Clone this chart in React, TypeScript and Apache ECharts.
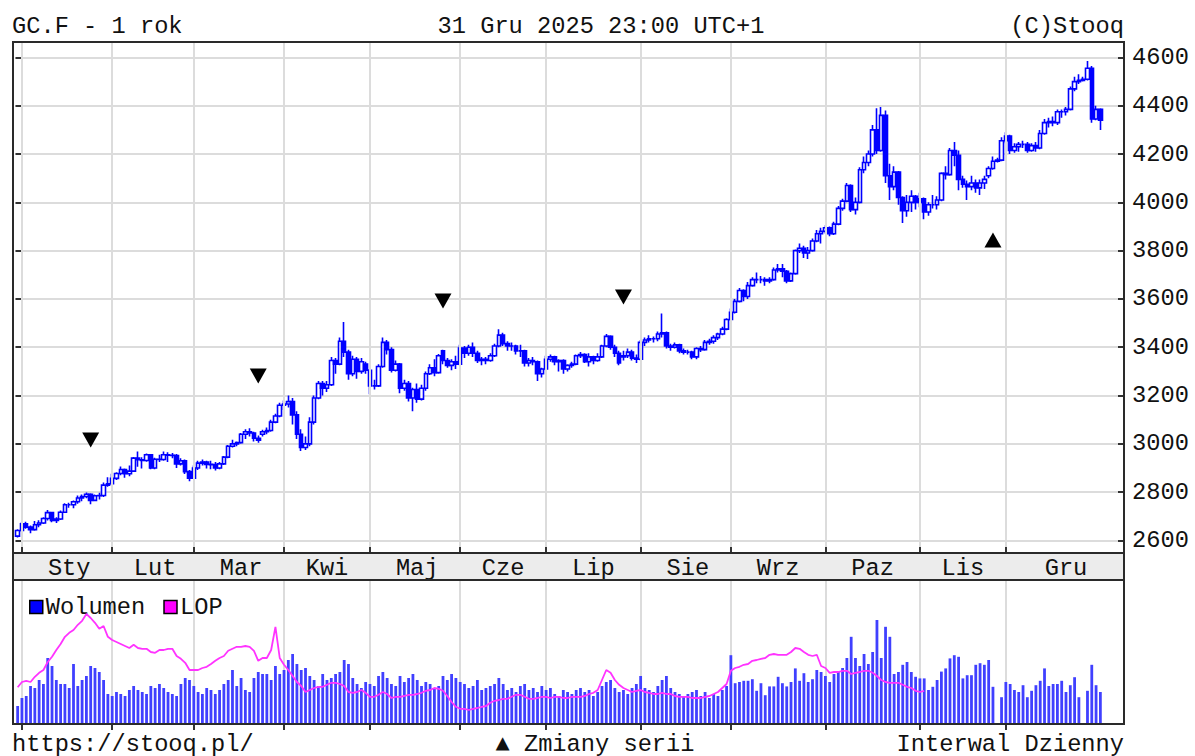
import React, { useEffect, useRef } from "react";
import * as echarts from "echarts";

const MONTH_LABELS = ["Sty", "Lut", "Mar", "Kwi", "Maj", "Cze", "Lip", "Sie", "Wrz", "Paz", "Lis", "Gru"];
const Y_TICKS = [2600, 2800, 3000, 3200, 3400, 3600, 3800, 4000, 4200, 4400, 4600];

// candles: [open, close, low, high]
const candDec2024 = [[2618, 2641, 2612, 2646]];
const candJan = [
  [2641, 2669, 2636, 2675], [2669, 2655, 2648, 2677], [2655, 2645, 2630, 2662], [2645, 2665, 2640, 2680],
  [2665, 2672, 2655, 2684], [2672, 2691, 2668, 2696], [2691, 2715, 2683, 2726], [2715, 2683, 2675, 2718],
  [2683, 2689, 2672, 2696], [2689, 2717, 2685, 2724], [2717, 2748, 2714, 2754], [2748, 2748, 2735, 2756],
  [2748, 2760, 2733, 2765], [2760, 2776, 2752, 2786], [2776, 2782, 2762, 2790], [2782, 2791, 2775, 2799],
  [2791, 2766, 2750, 2795], [2766, 2785, 2762, 2790], [2785, 2786, 2770, 2798], [2786, 2829, 2780, 2840],
  [2829, 2835, 2822, 2862],
];
const candFeb = [
  [2835, 2857, 2830, 2876], [2857, 2877, 2850, 2882], [2877, 2894, 2870, 2906], [2894, 2876, 2860, 2898],
  [2876, 2887, 2866, 2910], [2887, 2941, 2883, 2946], [2941, 2934, 2905, 2968], [2934, 2931, 2898, 2944],
  [2931, 2955, 2926, 2960], [2955, 2900, 2895, 2958], [2900, 2936, 2895, 2942], [2936, 2935, 2925, 2955],
  [2935, 2955, 2930, 2968], [2955, 2953, 2925, 2965], [2953, 2952, 2940, 2962], [2952, 2917, 2900, 2958],
  [2917, 2930, 2910, 2940], [2930, 2885, 2875, 2935], [2885, 2858, 2845, 2892],
];
const candMar = [
  [2858, 2900, 2855, 2910], [2900, 2920, 2892, 2930], [2920, 2925, 2910, 2935], [2925, 2915, 2898, 2930],
  [2915, 2914, 2895, 2930], [2914, 2900, 2890, 2925], [2900, 2917, 2895, 2925], [2917, 2945, 2912, 2950],
  [2945, 2990, 2940, 2995], [2990, 3000, 2985, 3017], [3000, 3005, 2990, 3010], [3005, 3040, 3000, 3045],
  [3040, 3050, 3020, 3060], [3050, 3045, 3030, 3065], [3045, 3023, 3010, 3050], [3023, 3015, 3005, 3035],
  [3040, 3050, 3030, 3058], [3050, 3055, 3040, 3068], [3055, 3090, 3050, 3100], [3090, 3115, 3085, 3125],
  [3115, 3160, 3110, 3170],
];
const candApr = [
  [3160, 3165, 3140, 3180], [3165, 3175, 3150, 3200], [3175, 3120, 3080, 3190], [3120, 3040, 3020, 3135],
  [3040, 2985, 2970, 3060], [2985, 3000, 2975, 3030], [3000, 3090, 2990, 3110], [3090, 3190, 3080, 3200],
  [3190, 3250, 3185, 3260], [3250, 3230, 3200, 3260], [3230, 3245, 3215, 3260], [3245, 3345, 3240, 3360],
  [3345, 3330, 3290, 3355], [3330, 3425, 3325, 3440], [3425, 3380, 3360, 3505], [3380, 3290, 3265, 3390],
  [3290, 3350, 3280, 3365], [3350, 3300, 3270, 3360], [3300, 3340, 3290, 3355], [3330, 3305, 3290, 3340],
];
const candMay = [
  [3305, 3240, 3205, 3310], [3240, 3240, 3225, 3265], [3240, 3320, 3235, 3330], [3320, 3420, 3315, 3440],
  [3420, 3390, 3370, 3430], [3390, 3305, 3295, 3400], [3305, 3330, 3300, 3345], [3330, 3230, 3210, 3335],
  [3230, 3250, 3220, 3265], [3250, 3190, 3175, 3260], [3190, 3225, 3135, 3232], [3225, 3185, 3170, 3250],
  [3185, 3230, 3180, 3245], [3230, 3290, 3220, 3300], [3290, 3315, 3285, 3330], [3315, 3295, 3280, 3350],
  [3295, 3365, 3290, 3372], [3385, 3345, 3330, 3390], [3345, 3325, 3315, 3355], [3325, 3340, 3305, 3350],
  [3340, 3330, 3310, 3365],
];
const candJun = [
  [3330, 3397, 3325, 3410], [3397, 3375, 3355, 3405], [3375, 3400, 3365, 3410], [3400, 3375, 3360, 3420],
  [3375, 3345, 3335, 3385], [3345, 3350, 3325, 3360], [3350, 3345, 3330, 3360], [3345, 3365, 3340, 3375],
  [3365, 3405, 3360, 3415], [3405, 3450, 3400, 3475], [3450, 3415, 3405, 3460], [3415, 3405, 3385, 3425],
  [3405, 3405, 3385, 3420], [3405, 3385, 3370, 3410], [3385, 3385, 3360, 3410], [3385, 3335, 3320, 3390],
  [3335, 3345, 3320, 3355], [3345, 3340, 3325, 3360], [3340, 3290, 3260, 3345], [3290, 3310, 3275, 3315],
];
const candJul = [
  [3310, 3350, 3305, 3365], [3350, 3360, 3340, 3370], [3360, 3340, 3325, 3365], [3340, 3345, 3300, 3350],
  [3345, 3310, 3290, 3350], [3310, 3325, 3300, 3330], [3325, 3330, 3315, 3340], [3330, 3365, 3325, 3370],
  [3365, 3370, 3355, 3380], [3370, 3340, 3335, 3375], [3340, 3360, 3320, 3375], [3360, 3345, 3330, 3365],
  [3345, 3360, 3340, 3375], [3360, 3405, 3355, 3410], [3405, 3445, 3400, 3455], [3445, 3400, 3390, 3450],
  [3400, 3375, 3360, 3410], [3375, 3335, 3325, 3385], [3360, 3365, 3345, 3385], [3365, 3380, 3355, 3395],
  [3380, 3355, 3345, 3390], [3355, 3350, 3335, 3370],
];
const candAug = [
  [3350, 3420, 3345, 3430], [3420, 3430, 3405, 3440], [3430, 3435, 3420, 3450], [3435, 3435, 3420, 3445],
  [3435, 3455, 3425, 3465], [3455, 3460, 3440, 3540], [3460, 3405, 3395, 3465], [3405, 3400, 3385, 3415],
  [3400, 3410, 3395, 3420], [3410, 3385, 3375, 3415], [3385, 3380, 3370, 3395], [3380, 3380, 3370, 3390],
  [3380, 3360, 3350, 3385], [3360, 3395, 3350, 3400], [3395, 3390, 3380, 3405], [3390, 3420, 3385, 3430],
  [3420, 3425, 3410, 3435], [3425, 3440, 3415, 3450], [3440, 3455, 3430, 3460], [3455, 3475, 3450, 3485],
  [3475, 3515, 3470, 3520],
];
const candSep = [
  [3515, 3545, 3510, 3560], [3545, 3590, 3540, 3600], [3590, 3635, 3585, 3645], [3635, 3610, 3590, 3640],
  [3610, 3655, 3600, 3670], [3655, 3680, 3650, 3690], [3680, 3680, 3665, 3710], [3680, 3680, 3665, 3695],
  [3680, 3675, 3655, 3690], [3675, 3680, 3665, 3690], [3680, 3720, 3675, 3730], [3720, 3725, 3710, 3745],
  [3725, 3715, 3690, 3745], [3715, 3675, 3665, 3720], [3675, 3705, 3670, 3710], [3705, 3800, 3700, 3805],
  [3800, 3810, 3790, 3830], [3810, 3790, 3770, 3820], [3790, 3800, 3765, 3815], [3800, 3840, 3795, 3850],
  [3840, 3870, 3835, 3885], [3870, 3880, 3830, 3895],
];
const candOct = [
  [3880, 3895, 3870, 3905], [3895, 3870, 3860, 3900], [3870, 3910, 3865, 3920], [3910, 3975, 3905, 3985],
  [3975, 4005, 3965, 4015], [4005, 4070, 4000, 4080], [4070, 3970, 3960, 4075], [3970, 4000, 3950, 4020],
  [4000, 4135, 3995, 4145], [4135, 4165, 4120, 4190], [4165, 4200, 4150, 4215], [4200, 4300, 4190, 4320],
  [4300, 4215, 4200, 4390], [4215, 4360, 4210, 4395], [4360, 4110, 4080, 4380], [4110, 4065, 4010, 4160],
  [4065, 4125, 4050, 4150], [4125, 4020, 3990, 4130], [4020, 3965, 3915, 4025], [3965, 4000, 3940, 4030],
  [4000, 4025, 3960, 4050], [4025, 4000, 3970, 4030],
];
const candNov = [
  [4000, 4015, 3980, 4040], [4015, 3960, 3930, 4020], [3960, 3990, 3945, 4000], [3990, 3990, 3975, 4030],
  [3990, 4010, 3970, 4025], [4010, 4120, 4005, 4125], [4120, 4115, 4095, 4150], [4115, 4215, 4110, 4225],
  [4215, 4195, 4150, 4250], [4195, 4095, 4050, 4215], [4095, 4075, 4060, 4110], [4075, 4065, 4010, 4090],
  [4065, 4080, 4050, 4110], [4080, 4060, 4040, 4095], [4060, 4080, 4030, 4095], [4080, 4095, 4055, 4110],
  [4110, 4140, 4100, 4150], [4140, 4170, 4135, 4190], [4170, 4175, 4165, 4185], [4175, 4255, 4170, 4270],
];
const candDec = [
  [4255, 4275, 4245, 4290], [4275, 4215, 4200, 4280], [4215, 4230, 4205, 4245], [4230, 4240, 4210, 4250],
  [4240, 4240, 4225, 4255], [4240, 4215, 4205, 4250], [4215, 4235, 4210, 4245], [4235, 4225, 4210, 4250],
  [4225, 4285, 4220, 4300], [4285, 4330, 4280, 4345], [4330, 4335, 4310, 4350], [4335, 4330, 4315, 4355],
  [4330, 4375, 4320, 4385], [4375, 4375, 4350, 4385], [4375, 4385, 4360, 4395], [4385, 4470, 4380, 4480],
  [4470, 4500, 4460, 4520], [4500, 4505, 4490, 4530], [4505, 4510, 4500, 4520], [4510, 4555, 4505, 4585],
  [4555, 4345, 4330, 4565], [4345, 4385, 4340, 4400], [4385, 4340, 4300, 4390],
];

// volume (thousand contracts), null = no volume
const volDec2024 = [45];
const volJan = [65, 70, 95, 90, 110, 100, 165, 145, 110, 100, 100, 90, 150, 95, 110, 120, 145, 140, 130, 110, 75];
const volFeb = [70, 80, 75, 70, 85, 95, 85, 80, 75, 95, 90, 100, 90, 80, 75, 70, 100, 115, 110];
const volMar = [95, 80, 75, 90, 85, 75, 85, 100, 110, 135, 95, 115, 85, 80, 115, 130, 125, 125, 110, 145, 125];
const volApr = [135, 160, 175, 150, 135, 140, 120, 110, 95, 125, 110, 115, 125, 130, 160, 150, 115, 100, 90, 105];
const volMay = [100, 95, 120, 130, 115, 100, 95, 120, 105, 115, 125, 110, 95, 105, 100, 90, 95, 120, 110, 125, 115];
const volJun = [105, 100, 90, 95, 110, 85, 90, 95, 100, 115, 100, 85, 90, 80, 95, 100, 85, 90, 80, 95];
const volJul = [85, 90, 75, 70, 85, 80, 75, 85, 90, 80, 85, 70, 80, 95, 105, 110, 90, 80, 85, 75, 90, 100];
const volAug = [120, 90, 85, 80, 95, 110, 120, 90, 80, 75, 70, 75, 80, 85, 70, 80, 65, 75, 70, 85, 95];
const volSep = [172, 102, 105, 108, 108, 112, 83, 102, 72, 94, 94, 118, 102, 94, 105, 139, 108, 127, 105, 112, 135, 130];
const volOct = [120, 105, 125, 130, 140, 165, 218, 165, 145, 175, 150, 180, 260, 165, 243, 218, 125, 130, 148, 155, 130, 118];
const volNov = [114, 114, 85, 93, 110, 131, 139, 164, 172, 168, 114, 122, 122, 148, 152, 148, 160, 93, null, 67];
const volDec = [105, 100, 85, 80, 97, 67, 83, 97, 108, 139, 95, 100, 100, 108, 80, 97, 117, 67, null, 83, 148, 97, 80];

// LOP = open interest (thousand contracts)
const lopDec2024 = [392];
const lopJan = [405, 408, 405, 418, 428, 435, 455, 468, 485, 500, 518, 528, 535, 548, 558, 575, 565, 553, 538, 545, 518];
const lopFeb = [510, 505, 500, 495, 490, 498, 490, 488, 488, 480, 478, 485, 485, 488, 488, 470, 463, 453, 435];
const lopMar = [435, 435, 440, 443, 450, 458, 465, 470, 483, 488, 493, 493, 495, 493, 483, 458, 465, 465, 485, 543, 465];
const lopApr = [448, 435, 420, 405, 395, 380, 385, 390, 393, 393, 398, 403, 403, 400, 395, 380, 378, 380, 385, 378];
const lopMay = [368, 368, 373, 380, 375, 365, 368, 368, 370, 373, 373, 375, 378, 383, 385, 390, 388, 383, 370, 355, 343];
const lopJun = [338, 338, 335, 338, 340, 343, 345, 353, 358, 360, 363, 363, 368, 373, 373, 368, 363, 363, 365, 368];
const lopJul = [368, 365, 368, 368, 365, 365, 368, 368, 368, 370, 375, 378, 385, 410, 435, 428, 410, 398, 390, 385, 380, 383];
const lopAug = [385, 380, 378, 375, 375, 378, 375, 375, 370, 368, 368, 368, 365, 365, 365, 368, 370, 375, 380, 390, 400];
const lopSep = [433, 440, 443, 448, 450, 458, 460, 463, 465, 473, 475, 473, 473, 473, 480, 490, 488, 480, 473, 470, 473, 445];
const lopOct = [440, 428, 430, 430, 433, 433, 425, 428, 430, 433, 433, 428, 420, 410, 405, 403, 403, 403, 398, 393, 390, 383];
const lopNov = [380, 383];

// contract roll markers: [day index, price level, direction]
const seriesChanges = [
  [17, 3016, "down"],
  [56, 3281, "down"],
  [99, 3592, "down"],
  [141, 3608, "down"],
  [227, 3844, "up"],
];

const PAD_AFTER = 5;
const FONT = '"Liberation Mono", "DejaVu Sans Mono", monospace';
const FS = 23.7;
const TXT = "#111";

export default function App() {
  const ref = useRef<HTMLDivElement>(null);
  useEffect(() => {
    document.body.style.margin = "0";
    const chart = echarts.init(ref.current as HTMLDivElement, null, { renderer: "svg" });

    const monthsC = [candJan, candFeb, candMar, candApr, candMay, candJun, candJul, candAug, candSep, candOct, candNov, candDec];
    const monthsV = [volJan, volFeb, volMar, volApr, volMay, volJun, volJul, volAug, volSep, volOct, volNov, volDec];
    const monthsL = [lopJan, lopFeb, lopMar, lopApr, lopMay, lopJun, lopJul, lopAug, lopSep, lopOct, lopNov];

    const cats: string[] = ["31 Gru 2024"];
    const monthStart: number[] = [];
    monthsC.forEach((m, mi) => {
      monthStart.push(cats.length);
      m.forEach((_, k) => cats.push(`${MONTH_LABELS[mi]} #${k + 1}`));
    });
    for (let i = 0; i < PAD_AFTER; i++) cats.push(`pad${i}`);
    const N = cats.length;
    const startSet = new Set(monthStart);
    const midIndex = new Map<number, string>();
    monthStart.forEach((s, i) => {
      midIndex.set(Math.round((s + (i + 1 < monthStart.length ? monthStart[i + 1] : N)) / 2), MONTH_LABELS[i]);
    });

    const candles = [...candDec2024, ...monthsC.flat()];
    const vols: any[] = [...volDec2024, ...monthsV.flat()];
    const lops: any[] = [...lopDec2024, ...monthsL.flat()];
    while (lops.length < candles.length) lops.push(null);

    const GL = 15.5;
    const GW = 1108.5;

    const tickFn = (i: number) => startSet.has(i);
    const gridColor = "#dcdcdc";

    const option: any = {
      animation: false,
      backgroundColor: "#ffffff",
      grid: [
        { left: GL, top: 42, width: GW, height: 511, show: false },
        { left: GL, top: 580, width: GW, height: 144, show: false },
      ],
      legend: {
        left: 24,
        top: 590,
        itemWidth: 13,
        itemHeight: 13,
        itemGap: 18,
        icon: "rect",
        textStyle: { fontFamily: FONT, fontSize: FS, color: TXT, padding: [0, 0, 0, -2] },
        data: [
          { name: "Wolumen", itemStyle: { color: "#0000ff", borderColor: "#000", borderWidth: 1.5 } },
          { name: "LOP", itemStyle: { color: "#ff00ff", borderColor: "#000", borderWidth: 1.5 } },
        ],
      },
      xAxis: [
        {
          type: "category", gridIndex: 0, data: cats, boundaryGap: true, position: "bottom", z: 10,
          axisLine: { show: false },
          axisTick: { show: true, inside: true, length: 6, alignWithLabel: true, interval: tickFn, lineStyle: { color: "#333", width: 2 } },
          axisLabel: {
            show: true, interval: (i: number) => midIndex.has(i), margin: 3,
            fontFamily: FONT, fontSize: FS, color: TXT,
            formatter: (_v: string, i: number) => midIndex.get(i) || "",
          },
          splitLine: { show: true, interval: tickFn, alignWithLabel: true, lineStyle: { color: gridColor, width: 2 } },
        },
        {
          type: "category", gridIndex: 0, data: cats, boundaryGap: true, position: "top",
          axisLine: { show: false },
          axisTick: { show: true, inside: true, length: 7, alignWithLabel: true, interval: tickFn, lineStyle: { color: "#333", width: 2 } },
          axisLabel: { show: false },
          splitLine: { show: false },
        },
        {
          type: "category", gridIndex: 1, data: cats, boundaryGap: true, position: "top",
          axisLine: { show: false },
          axisTick: { show: true, inside: true, length: 6, alignWithLabel: true, interval: tickFn, lineStyle: { color: "#333", width: 2 } },
          axisLabel: { show: false },
          splitLine: { show: true, interval: tickFn, alignWithLabel: true, lineStyle: { color: gridColor, width: 2 } },
        },
      ],
      yAxis: [
        {
          type: "value", gridIndex: 0, position: "right", min: 2548, max: 4664, splitNumber: 10,
          minInterval: 200, maxInterval: 200, scale: true,
          axisLine: { show: false },
          axisTick: { show: true, inside: true, length: 6, lineStyle: { color: "#333", width: 2 } },
          axisLabel: {
            show: true, margin: 8, fontFamily: FONT, fontSize: FS, color: TXT,
            formatter: (v: number) => (Y_TICKS.includes(Math.round(v)) ? String(Math.round(v)) : ""),
          },
          splitLine: { show: true, lineStyle: { color: gridColor, width: 2 } },
        },
        {
          type: "value", gridIndex: 0, position: "left", min: 2548, max: 4664, splitNumber: 10,
          minInterval: 200, maxInterval: 200, scale: true,
          axisLine: { show: false },
          axisTick: { show: true, inside: true, length: 6, lineStyle: { color: "#333", width: 2 } },
          axisLabel: { show: false },
          splitLine: { show: false },
        },
        { type: "value", gridIndex: 1, min: 0, max: 360, show: false, splitLine: { show: false } },
        { type: "value", gridIndex: 1, min: 300, max: 660, show: false, splitLine: { show: false } },
      ],
      series: [
        {
          name: "GC.F", type: "candlestick", xAxisIndex: 0, yAxisIndex: 0, data: candles, barWidth: 4,
          itemStyle: { color: "#ffffff", color0: "#0000ff", borderColor: "#0000ff", borderColor0: "#0000ff", borderWidth: 1.6 },
        },
        {
          name: "Zmiany serii", type: "scatter", xAxisIndex: 0, yAxisIndex: 0, symbol: "triangle", symbolSize: [17, 15],
          itemStyle: { color: "#000000", opacity: 1 }, z: 5,
          data: seriesChanges.map((s) => ({ value: [s[0], s[1]], symbolRotate: s[2] === "down" ? 180 : 0 })),
        },
        {
          name: "Wolumen", type: "bar", xAxisIndex: 2, yAxisIndex: 2, data: vols, barWidth: 2.8,
          itemStyle: { color: "#4040ff" },
        },
        {
          name: "LOP", type: "line", xAxisIndex: 2, yAxisIndex: 3, data: lops, showSymbol: false, connectNulls: false,
          lineStyle: { color: "#ff33ff", width: 1.8 }, itemStyle: { color: "#ff00ff" }, z: 4,
        },
      ],
      graphic: [
        { type: "rect", z: -10, shape: { x: 13, y: 553, width: 1111, height: 27 }, style: { fill: "#ececec" } },
        { type: "rect", z: 100, shape: { x: 13, y: 553, width: 1111, height: 27 }, style: { fill: "none", stroke: "#2a2a2a", lineWidth: 2 } },
        { type: "rect", z: 100, shape: { x: 13, y: 42, width: 1111, height: 682 }, style: { fill: "none", stroke: "#2a2a2a", lineWidth: 2 } },
        { type: "text", z: 100, x: 12, y: 26, style: { text: "GC.F - 1 rok", font: `${FS}px ${FONT}`, fill: TXT, textAlign: "left", textVerticalAlign: "middle" } },
        { type: "text", z: 100, x: 601, y: 26, style: { text: "31 Gru 2025 23:00 UTC+1", font: `${FS}px ${FONT}`, fill: TXT, textAlign: "center", textVerticalAlign: "middle" } },
        { type: "text", z: 100, x: 1124, y: 26, style: { text: "(C)Stooq", font: `${FS}px ${FONT}`, fill: TXT, textAlign: "right", textVerticalAlign: "middle" } },
        { type: "text", z: 100, x: 12, y: 744, style: { text: "https://stooq.pl/", font: `${FS}px ${FONT}`, fill: TXT, textAlign: "left", textVerticalAlign: "middle" } },
        { type: "text", z: 100, x: 595, y: 744, style: { text: "▲ Zmiany serii", font: `${FS}px ${FONT}`, fill: TXT, textAlign: "center", textVerticalAlign: "middle" } },
        { type: "text", z: 100, x: 1124, y: 744, style: { text: "Interwal Dzienny", font: `${FS}px ${FONT}`, fill: TXT, textAlign: "right", textVerticalAlign: "middle" } },
      ],
    };
    chart.setOption(option);
    return () => chart.dispose();
  }, []);
  return <div ref={ref} style={{ width: 1195, height: 756 }} />;
}
